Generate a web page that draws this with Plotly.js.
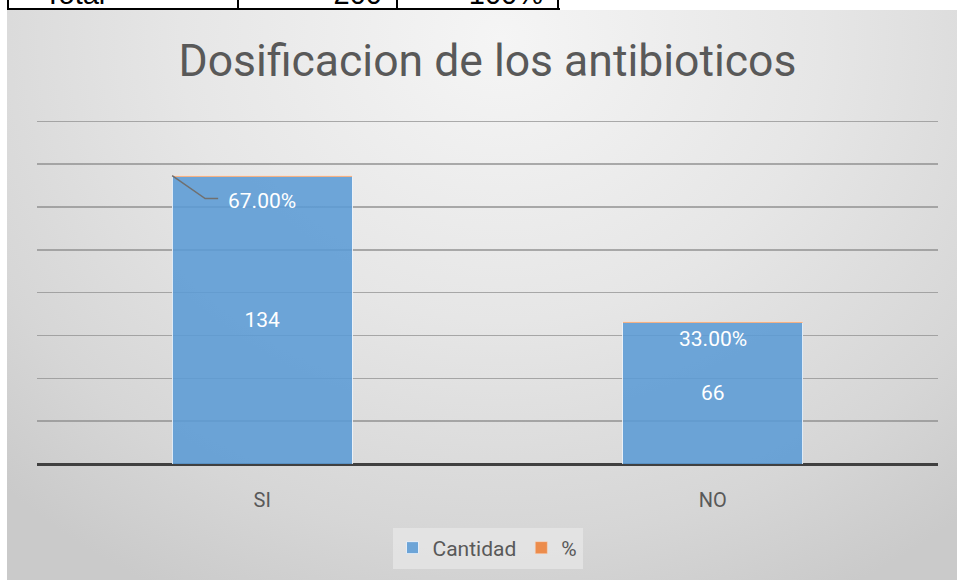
<!DOCTYPE html>
<html>
<head>
<meta charset="utf-8">
<script src="https://cdn.plot.ly/plotly-3.0.1.min.js"></script>
<style>
  html, body { margin:0; padding:0; background:#ffffff; width:957px; height:580px; overflow:hidden; }
  #tbl { position:absolute; left:0; top:0; width:957px; height:11px; overflow:hidden; }
  .vl { position:absolute; top:0; width:2px; height:10px; background:#000; }
  .hl { position:absolute; left:7px; top:8px; width:553px; height:2px; background:#000; }
  .txt { position:absolute; top:-20.5px; height:29px; font-family:"Liberation Sans", Arial, sans-serif; font-size:29px; line-height:29px; color:#000; white-space:nowrap; }
  #chart { position:absolute; left:7px; top:10px; width:950px; height:570px;
    background: radial-gradient(ellipse 75% 110% at 52% 5%, #f5f5f5 0%, #e6e6e6 45%, #d6d6d6 80%, #cacaca 100%); }
</style>
</head>
<body>
<div id="tbl">
  <div class="vl" style="left:7px;"></div>
  <div class="vl" style="left:237px;"></div>
  <div class="vl" style="left:396px;"></div>
  <div class="vl" style="left:557px;"></div>
  <div class="hl"></div>
  <span class="txt" id="t0" style="left:44px;"></span>
  <span class="txt" id="t1" style="right:575px;"></span>
  <span class="txt" id="t2" style="right:414px;"></span>
</div>
<div id="chart"></div>
<script>
const categories = ['SI', 'NO'];
const cantidad = [134, 66];
const porcentaje = [0.67, 0.33];
const totalRow = ['Total', '200', '100%'];

document.getElementById('t0').textContent = totalRow[0];
document.getElementById('t1').textContent = totalRow[1];
document.getElementById('t2').textContent = totalRow[2];

const fontFam = 'Roboto, "Noto Sans", sans-serif';
const pctText = porcentaje.map(v => (v * 100).toFixed(2) + '%');
const bargap = 0.6;
const half = (1 - bargap) / 2;

const traces = [
  {
    type: 'bar', name: 'Cantidad', x: categories, y: cantidad,
    marker: { color: 'rgba(91,155,213,0.88)', line: { color: 'rgba(235,242,250,0.9)', width: 1 } },
    text: cantidad.map(String), textposition: 'inside', insidetextanchor: 'middle',
    textfont: { color: '#ffffff', size: 21, family: fontFam }, constraintext: 'none',
    hoverinfo: 'none'
  },
  {
    type: 'bar', name: '%', x: categories, y: porcentaje,
    marker: { color: 'rgba(237,125,49,0.85)', line: { color: 'rgba(250,220,200,0.9)', width: 0.5 } },
    hoverinfo: 'none'
  }
];

const annotations = [
  { x: 0, y: cantidad[0] + porcentaje[0], xref: 'x', yref: 'y', text: pctText[0], showarrow: false,
    xshift: 0, yshift: -25, font: { color: '#ffffff', size: 21, family: fontFam } },
  { x: 1, y: cantidad[1] + porcentaje[1], xref: 'x', yref: 'y', text: pctText[1], showarrow: false,
    xshift: 0, yshift: -17, font: { color: '#ffffff', size: 21, family: fontFam } }
];

const shapes = [
  { type: 'path', xref: 'x', yref: 'y', xsizemode: 'pixel', ysizemode: 'pixel',
    xanchor: -half, yanchor: cantidad[0] + porcentaje[0],
    path: 'M0,0 L33,-23 L46,-23', line: { color: '#707070', width: 1.5 } }
];

const layout = {
  width: 950, height: 570,
  margin: { l: 30, r: 19, t: 107, b: 116 },
  paper_bgcolor: 'rgba(0,0,0,0)', plot_bgcolor: 'rgba(0,0,0,0)',
  barmode: 'stack', bargap: bargap,
  title: { text: 'Dosificacion de los antibioticos', x: 0.5, xref: 'paper', xanchor: 'center',
    y: 1 - 50 / 570, yref: 'container', yanchor: 'middle',
    font: { size: 44.5, color: '#595959', family: fontFam } },
  xaxis: { type: 'category', showgrid: false, zeroline: false, showline: false, ticks: '',
    tickfont: { size: 20, color: '#595959', family: fontFam }, ticklabelstandoff: 22, fixedrange: true },
  yaxis: { range: [0, 162], tickvals: [20, 40, 60, 80, 100, 120, 140, 160], showticklabels: false, showgrid: true,
    gridcolor: 'rgba(140,140,140,0.7)', gridwidth: 1.5,
    zeroline: true, zerolinecolor: '#404040', zerolinewidth: 3, showline: false, fixedrange: true },
  showlegend: true,
  legend: { orientation: 'h', x: 0.5, xanchor: 'center', y: (464 - 548) / 347, yanchor: 'middle',
    bgcolor: 'rgba(232,232,232,0.7)', font: { size: 21, color: '#595959', family: fontFam },
    itemwidth: 30, traceorder: 'normal' },
  annotations: annotations,
  shapes: shapes
};

Plotly.newPlot('chart', traces, layout, { displayModeBar: false, staticPlot: true });
</script>
</body>
</html>
